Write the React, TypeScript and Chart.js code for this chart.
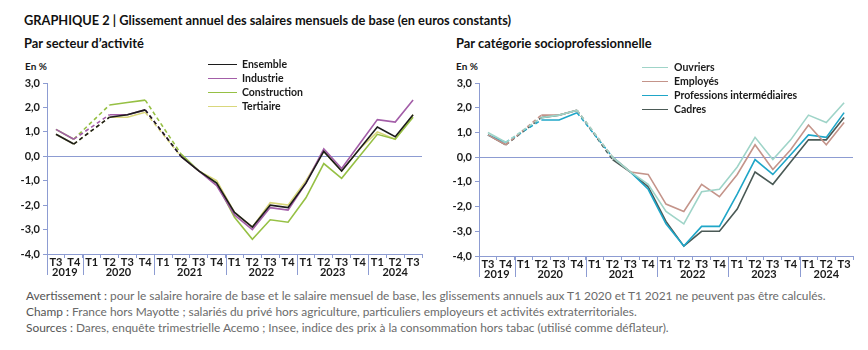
import React, { useEffect, useRef } from "react";
import { Chart, registerables } from "chart.js";

Chart.register(...registerables);

const quarters = ["T3", "T4", "T1", "T2", "T3", "T4", "T1", "T2", "T3", "T4", "T1", "T2", "T3", "T4", "T1", "T2", "T3", "T4", "T1", "T2", "T3"];
const quarterYears = ["2019", "2019", "2020", "2020", "2020", "2020", "2021", "2021", "2021", "2021", "2022", "2022", "2022", "2022", "2023", "2023", "2023", "2023", "2024", "2024", "2024"];
const yTicks = [3, 2, 1, 0, -1, -2, -3, -4];

const ensemble = [0.9, 0.5, null, 1.6, 1.7, 1.9, null, 0.0, -0.6, -1.1, -2.3, -2.9, -2.0, -2.1, -1.1, 0.2, -0.6, 0.3, 1.2, 0.8, 1.7];
const industrie = [1.1, 0.7, null, 1.7, 1.7, 1.9, null, 0.0, -0.6, -1.2, -2.4, -3.0, -2.1, -2.2, -1.1, 0.3, -0.5, 0.5, 1.5, 1.4, 2.3];
const construction = [1.1, 0.7, null, 2.1, 2.2, 2.3, null, 0.1, -0.6, -1.1, -2.5, -3.4, -2.6, -2.7, -1.7, -0.3, -0.9, 0.0, 0.9, 0.7, 1.6];
const tertiaire = [0.9, 0.5, null, 1.6, 1.6, 1.8, null, 0.0, -0.6, -1.0, -2.3, -2.9, -1.9, -2.0, -1.0, 0.2, -0.6, 0.3, 1.0, 0.7, 1.7];

const ouvriers = [1.0, 0.6, null, 1.6, 1.7, 1.9, null, 0.0, -0.6, -1.1, -2.2, -2.7, -1.4, -1.3, -0.4, 0.8, -0.1, 0.7, 1.7, 1.4, 2.2];
const employes = [0.9, 0.5, null, 1.7, 1.7, 1.9, null, 0.0, -0.6, -0.7, -1.9, -2.2, -1.1, -1.6, -0.7, 0.5, -0.5, 0.3, 1.3, 0.5, 1.4];
const professions = [0.9, 0.6, null, 1.5, 1.5, 1.8, null, 0.0, -0.6, -1.3, -2.7, -3.6, -2.8, -2.8, -1.5, -0.1, -0.7, 0.1, 0.9, 0.8, 1.8];
const cadres = [0.9, 0.5, null, 1.6, 1.7, 1.9, null, -0.1, -0.6, -1.2, -2.6, -3.6, -3.0, -3.0, -2.1, -0.6, -1.1, -0.2, 0.7, 0.7, 1.6];

const leftSeries = [
  { label: "Ensemble", data: ensemble, color: "#1c1c1c" },
  { label: "Industrie", data: industrie, color: "#a35ea8" },
  { label: "Construction", data: construction, color: "#96c044" },
  { label: "Tertiaire", data: tertiaire, color: "#d9d77c" },
];
const rightSeries = [
  { label: "Ouvriers", data: ouvriers, color: "#9fd4c8" },
  { label: "Employés", data: employes, color: "#c4948a" },
  { label: "Professions intermédiaires", data: professions, color: "#1fa6c8" },
  { label: "Cadres", data: cadres, color: "#4b5a56" },
];

const AXIS = "#8d9cd2";
const FONT = "Lato, 'Open Sans', sans-serif";
const TEXT = "#1a1a1a";

const yearPlugin = {
  id: "yearGroups",
  afterDraw(chart: any) {
    const xs = chart.scales.x;
    const ctx = chart.ctx;
    const bottom = chart.chartArea.bottom;
    const half = (xs.getPixelForValue(1) - xs.getPixelForValue(0)) / 2;
    ctx.save();
    ctx.strokeStyle = AXIS;
    ctx.lineWidth = 1;
    ctx.fillStyle = TEXT;
    ctx.font = `bold 11px ${FONT}`;
    ctx.textAlign = "center";
    ctx.textBaseline = "middle";
    let start = 0;
    for (let i = 1; i <= quarterYears.length; i++) {
      if (i === quarterYears.length || quarterYears[i] !== quarterYears[start]) {
        const left = xs.getPixelForValue(start) - half;
        const right = xs.getPixelForValue(i - 1) + half;
        ctx.fillText(quarterYears[start], (left + right) / 2, bottom + 18);
        const sep = Math.round(left) + 0.5;
        ctx.beginPath();
        ctx.moveTo(sep, bottom);
        ctx.lineTo(sep, bottom + 21);
        ctx.stroke();
        start = i;
      }
    }
    ctx.restore();
  },
};

function LineChart({ series, padLeft, padRight, xHeight }: any) {
  const ref = useRef<HTMLCanvasElement>(null);
  useEffect(() => {
    const chart = new Chart(ref.current!, {
      type: "line",
      data: {
        labels: quarters,
        datasets: series.map((s: any) => ({
          label: s.label,
          data: s.data,
          borderColor: s.color,
          backgroundColor: s.color,
          borderWidth: 1.6,
          pointRadius: 0,
          tension: 0,
          spanGaps: true,
          segment: {
            borderDash: (c: any) => (c.p0.skip || c.p1.skip ? [4, 3] : undefined),
          },
        })),
      },
      options: {
        animation: false,
        responsive: false,
        maintainAspectRatio: false,
        layout: { padding: { top: 23, right: padRight, left: 0, bottom: 0 } },
        plugins: { legend: { display: false }, tooltip: { enabled: false } },
        scales: {
          x: {
            offset: true,
            afterFit: (s: any) => { s.height = xHeight; },
            grid: { offset: true, drawOnChartArea: false, color: AXIS, tickLength: 4 },
            border: { color: AXIS, width: 1 },
            ticks: { color: TEXT, font: { family: FONT, size: 11, weight: "bold" }, padding: -2, maxRotation: 0, autoSkip: false },
          },
          y: {
            min: -4,
            max: 3,
            afterFit: (s: any) => { s.width = padLeft; },
            afterBuildTicks: (s: any) => { s.ticks = yTicks.map((v) => ({ value: v })); },
            grid: {
              color: (c: any) => (c.tick && c.tick.value === 0 ? AXIS : "rgba(0,0,0,0)"),
              tickColor: AXIS,
              tickLength: 4,
            },
            border: { color: AXIS, width: 1 },
            ticks: {
              color: TEXT,
              font: { family: FONT, size: 11, weight: "bold" },
              padding: 3,
              callback: (v: any) => Number(v).toFixed(1).replace(".", ","),
            },
          },
        },
      },
      plugins: [yearPlugin],
    });
    return () => chart.destroy();
  }, []);
  return <canvas ref={ref} width={434} height={225} style={{ width: 434, height: 225, display: "block" }} />;
}

function Legend({ series, left, top, lineW, gap }: any) {
  return (
    <div style={{ position: "absolute", left, top }}>
      {series.map((s: any) => (
        <div key={s.label} style={{ display: "flex", alignItems: "center", height: 14 }}>
          <span style={{ display: "inline-block", width: lineW, height: 0, borderTop: `1.6px solid ${s.color}`, marginRight: gap }} />
          <span style={{ font: `bold 10.5px ${FONT}`, color: TEXT, whiteSpace: "nowrap" }}>{s.label}</span>
        </div>
      ))}
    </div>
  );
}

export default function App() {
  const abs = (l: number, t: number, extra: any = {}) => ({ position: "absolute" as const, left: l, top: t, whiteSpace: "nowrap" as const, ...extra });
  const foot = { font: `11.9px ${FONT}`, color: "#6b6b6b" };
  return (
    <div style={{ position: "absolute", left: 0, top: 0, width: 868, height: 350, background: "#fff", overflow: "hidden", fontFamily: FONT }}>
      <div style={abs(24, 12, { font: `bold 12.8px ${FONT}`, color: "#111" })}>
        GRAPHIQUE 2 | Glissement annuel des salaires mensuels de base (en euros constants)
      </div>
      <div style={abs(24, 35, { font: `bold 12.9px ${FONT}`, color: "#111" })}>Par secteur d’activité</div>
      <div style={abs(456, 35, { font: `bold 12.9px ${FONT}`, color: "#111" })}>Par catégorie socioprofessionnelle</div>
      <div style={abs(25, 60, { font: `bold 10px ${FONT}`, color: TEXT })}>En %</div>
      <div style={abs(456, 60, { font: `bold 10px ${FONT}`, color: TEXT })}>En %</div>

      <div style={{ position: "absolute", left: 0, top: 60 }}>
        <LineChart series={leftSeries} padLeft={47} padRight={12} xHeight={31} />
      </div>
      <div style={{ position: "absolute", left: 434, top: 60 }}>
        <LineChart series={rightSeries} padLeft={45} padRight={15} xHeight={29} />
      </div>

      <Legend series={leftSeries} left={208} top={57} lineW={29} gap={5} />
      <Legend series={rightSeries} left={642} top={60} lineW={26} gap={6} />

      <div style={abs(26, 288, foot)}>
        <span style={{ color: "#555" }}>Avertissement :</span> pour le salaire horaire de base et le salaire mensuel de base, les glissements annuels aux T1 2020 et T1 2021 ne peuvent pas être calculés.
      </div>
      <div style={abs(26, 304, foot)}>
        <span style={{ color: "#555" }}>Champ :</span> France hors Mayotte ; salariés du privé hors agriculture, particuliers employeurs et activités extraterritoriales.
      </div>
      <div style={abs(26, 320, foot)}>
        <span style={{ color: "#555" }}>Sources :</span> Dares, enquête trimestrielle Acemo ; Insee, indice des prix à la consommation hors tabac (utilisé comme déflateur).
      </div>
    </div>
  );
}
